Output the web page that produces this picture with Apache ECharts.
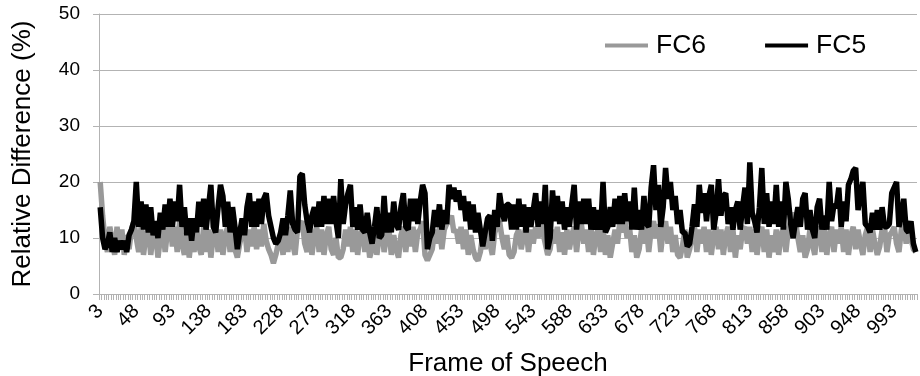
<!DOCTYPE html>
<html>
<head>
<meta charset="utf-8">
<script src="https://cdn.jsdelivr.net/npm/echarts@6/dist/echarts.min.js"></script>
<style>html,body{margin:0;padding:0;background:#fff}#c{width:920px;height:376px}</style>
</head>
<body>
<div id="c"></div>
<script>
// Frame numbers: 3, 6, 9, ... 1020 (340 frames)
const frames = [];
for (let f = 3; f <= 1020; f += 3) frames.push(String(f));

const yTicks = [0, 10, 20, 30, 40, 50];

const fc5 = [
15.5,10,8,9,11,7.5,10,7.5,9.5,8,
9.5,7.5,10.5,11.5,13,20,12,16.5,11.5,16,
11,15.5,10.5,13,10,14.5,11.5,16,12,17,
12,16.5,13,19.5,12,15.5,10.5,13.5,9.5,13.5,
11,16.5,12,17,11.5,15.5,19.5,12,11,15.5,
19.5,17.5,12,16.5,11,15.5,12,8,11,13.5,
10.5,15.5,18,12,16.5,12,17,12.5,17,18,
14,12,10,9,9.5,11,13.5,10.5,14,18.5,
12.5,11.5,11,21,21.5,16,13,11,14,15.5,
12,16.5,12,17.5,12.5,17,12.5,17.5,13,10,
20.5,12.5,16,18,19.5,12,15.5,11.5,16,11.5,
11,14.5,11,9,12,15.5,10,10.5,17.5,11,
14.5,11,16.5,12.5,11.5,15.5,18,12,11.5,17,
13,17,12.5,16.5,19.5,18,8,10,11,15,
12,16,11.5,15,12.5,19.5,17,19,16.5,18.5,
15,17.5,13,16.5,11.5,16,11,14.5,11.5,8.5,
11,13.5,14,9.5,15,12,18,15,13,16,
16,11.5,16,11.5,17,12,16,11,15.5,12,
15,18,12,16.5,12.5,19.5,8,10,18.5,13,
17.5,12.5,16.5,11.5,15.5,12,16,19.5,11.5,16.5,
12.5,17,12.5,17,11.5,15.5,11.5,15,11.5,20,
11,12,15.5,12,17,12.5,17.5,12.5,18,13,
16.5,11.5,19,11.5,15,11.5,17.5,12.5,12,19,
23,15,19.5,12,15.5,22.5,17,20,15,17.5,
12.5,15,11,11,8.5,9,12,16,12,19.5,
14.5,18,13,17.5,19.5,11.5,14.5,20.5,14,17.5,
18,12.5,15.5,11.5,15,16.5,11.5,15.5,19,12.5,
23.5,14.5,13,11,15.5,22.5,12.5,18,12,16.5,
12.5,19.5,12,16.5,11.5,20,17,12.5,10,13,
15.5,12,17,18,11.5,15,11.5,10,15.5,17,
11.5,14,11.5,20,13,16,15.5,19,12,16.5,
13,19.5,20.5,22,22.5,15,18,20,12.5,12,
11,14.5,11.5,15,11.5,15.5,12,12,12.5,18,
19,20,12,14,17,11.5,11,13,9,7.5
];

const fc6 = [
20,14,9.5,7.5,12,9.5,7,12,8,11.5,
7,10.5,8,11.5,13,10,7.5,12,7,10.5,
12,7,10.5,11,6.5,10,12,7.5,11.5,13,
8.5,12,7.5,13,9,7,11.5,6.5,10.5,7.5,
12,8.5,7,12,7.5,11.5,6.5,10.5,12,7.5,
11.5,7,10.5,12,7.5,11.5,8,6.5,9,11,
12,7.5,11.5,8.5,12,8,11.5,8.5,12.5,9.5,
8,7,5.5,7,9,10.5,7,11,7.5,12,
9,7,11.5,12.5,13,9,7.5,11.5,7,10.5,
12,7.5,11.5,7,10.5,12,8,7,10,6.5,
6.5,8,11.5,8.5,12,7.5,11.5,7,10.5,12,
7.5,11,6.5,8,11.5,7,10.5,12,7.5,10.5,
11.5,7,10.5,8,6.5,10.5,12,7.5,11.5,8.5,
12,7.5,11,11.5,13,7,6,7,8,11.5,
9,12,8,11.5,12.5,13,14,11,11.5,9,
12,8,11.5,7,10.5,8,6.5,6,7.5,10.5,
8,11.5,9,7,11,12,13,10,8,10.5,
7,6.5,7.5,10.5,11.5,8,10.5,12,7.5,11.5,
9,12,10,15,11,9,7,8,11.5,9,
12,7.5,11,7,11.5,8,10.5,12,7.5,11.5,
12.5,9,11.5,7.5,12,7,10.5,11.5,7.5,12,
7,10.5,6.5,9,11.5,9,13,11,13.5,10,
12,7.5,10.5,6.5,8,11.5,9,12,7.5,11.5,
13,10,12.5,7.5,11.5,13,9,12,7.5,10.5,
7,6.5,8.5,11.5,6.5,8,10.5,12,7.5,11.5,
9,12,7.5,11.5,7,10.5,12,8,11.5,7,
10.5,12,7.5,11.5,6.5,10.5,8,11.5,12,9,
12,7.5,11.5,7,10.5,12,7.5,11.5,6.5,10.5,
7.5,11.5,7,10.5,12,7.5,11.5,13,14.5,13,
10,7.5,10.5,6.5,8,11.5,9,7,11,12,
7.5,11.5,7,10.5,12,7.5,11.5,9,12,7.5,
11.5,7,10.5,12,8,11.5,9,7,10.5,12,
7.5,11.5,9,7,8.5,11.5,12,7.5,10.5,11,
12,9,7.5,11.5,12.5,9,12,10,8,7.5
];

const chart = echarts.init(document.getElementById('c'), null, {renderer: 'canvas'});
const font = '"Liberation Sans", Arial, sans-serif';
chart.setOption({
  animation: false,
  backgroundColor: '#ffffff',
  grid: {left: 99, right: 3, top: 14, bottom: 82, containLabel: false, outerBoundsMode: 'none'},
  legend: {
    data: ['FC6', 'FC5'],
    left: 605, top: 32, padding: 0,
    icon: 'rect', itemWidth: 43, itemHeight: 4, itemGap: 59,
    textStyle: {fontFamily: font, fontSize: 26.5, color: '#000', padding: [0, 0, 0, 3]}
  },
  xAxis: {
    type: 'category', data: frames, boundaryGap: true,
    name: 'Frame of Speech', nameLocation: 'middle', nameGap: 57,
    nameTextStyle: {fontFamily: font, fontSize: 26, color: '#000'},
    axisLine: {lineStyle: {color: '#b3b3b3', width: 1}},
    axisTick: {show: true, interval: 0, length: 6, lineStyle: {color: '#b3b3b3'}},
    axisLabel: {interval: 14, rotate: 45, fontFamily: font, fontSize: 20, color: '#000', margin: 14},
    splitLine: {show: false}
  },
  yAxis: {
    type: 'value', min: yTicks[0], max: yTicks[yTicks.length - 1], interval: 10,
    name: 'Relative Difference (%)', nameLocation: 'middle', nameGap: 63,
    nameTextStyle: {fontFamily: font, fontSize: 26, color: '#000'},
    axisLine: {show: true, lineStyle: {color: '#b3b3b3', width: 1}},
    axisTick: {show: true, length: 6, lineStyle: {color: '#b3b3b3'}},
    axisLabel: {fontFamily: font, fontSize: 19, color: '#000', margin: 19},
    splitLine: {lineStyle: {color: '#b3b3b3', width: 1}}
  },
  series: [
    {name: 'FC6', type: 'line', data: fc6, symbol: 'none', color: '#999999',
     lineStyle: {color: '#999999', width: 5.5}},
    {name: 'FC5', type: 'line', data: fc5, symbol: 'none', color: '#000000',
     lineStyle: {color: '#000000', width: 5.5}}
  ]
});
</script>
</body>
</html>
